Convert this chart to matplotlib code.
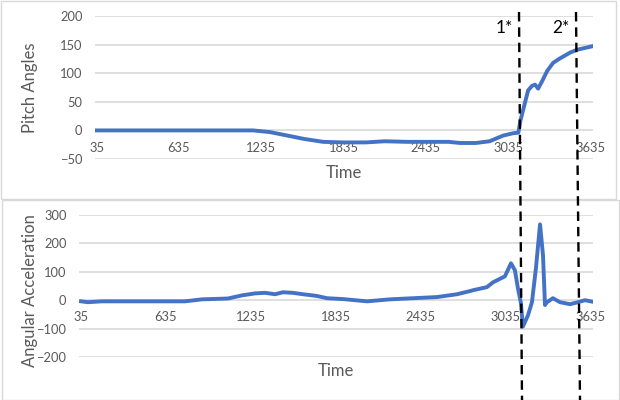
import matplotlib
matplotlib.use("Agg")
import matplotlib.pyplot as plt
from matplotlib.lines import Line2D
from matplotlib.patches import Rectangle

plt.rcParams['font.family'] = ['Lato', 'DejaVu Sans']

# ---- data ----
time_top = [35, 300, 600, 900, 1176, 1300, 1446, 1550, 1686, 1835, 2000, 2135, 2300, 2435,
            2600, 2685, 2800, 2900, 3000, 3071, 3110, 3125, 3144, 3181, 3210, 3232, 3254,
            3283, 3320, 3363, 3414, 3487, 3538, 3611, 3647]
pitch = [0, 0, 0, 0, 0, -3, -10, -15, -20, -21, -21, -19, -20, -20,
         -20, -22, -22, -19, -9, -5, -4, 17, 35, 70, 78, 80, 73,
         86, 104, 118, 126, 136, 141, 145, 147]

time_bot = [35, 84, 183, 500, 769, 889, 1073, 1172, 1264, 1334, 1405, 1461, 1530, 1602,
            1700, 1772, 1885, 2054, 2216, 2379, 2548, 2690, 2781, 2802, 2901, 2944, 3028,
            3071, 3099, 3120, 3141, 3155, 3191, 3219, 3247, 3276, 3297, 3311, 3325, 3367,
            3417, 3487, 3544, 3593, 3643]
accel = [-4, -7, -4, -4, -4, 3, 6, 17, 24, 26, 21, 28, 26, 21,
         15, 7, 4, -4, 3, 7, 11, 21, 32, 35, 46, 63, 84,
         130, 105, 42, -10, -93, -53, -7, 112, 267, 158, -17, -7, 7,
         -7, -14, -7, 0, -5]

x_ticks = [35, 635, 1235, 1835, 2435, 3035, 3635]
top_yticks = [-50, 0, 50, 100, 150, 200]
bot_yticks = [-200, -100, 0, 100, 200, 300]
marker_labels = ["1*", "2*"]

W, H = 620, 400
fig = plt.figure(figsize=(6.2, 4.0), dpi=100)

def frac(x0, y0, x1, y1):
    # pixel box (top-left origin) -> figure fraction
    return [x0 / W, 1 - y1 / H, (x1 - x0) / W, (y1 - y0) / H]

grey_txt = '#595959'
grid_c = '#D9D9D9'
blue = '#4472C4'

# chart borders
fig.add_artist(Rectangle((0.5 / W, 1 - 199 / H), 615.5 / W, 198.5 / H, transform=fig.transFigure,
                         fill=False, edgecolor=grid_c, lw=1))
fig.add_artist(Rectangle((2 / W, 0.5 / H), 617 / W, 199.5 / H, transform=fig.transFigure,
                         fill=False, edgecolor=grid_c, lw=1))

def style(ax, yticks, ylim, xlim):
    ax.set_xlim(*xlim)
    ax.set_ylim(*ylim)
    ax.set_yticks(yticks)
    ax.set_xticks(x_ticks)
    ax.set_xticklabels([str(t) for t in x_ticks])
    for s in ['top', 'right', 'left']:
        ax.spines[s].set_visible(False)
    ax.spines['bottom'].set_position(('data', 0))
    ax.spines['bottom'].set_color('none')
    ax.grid(axis='y', color=grid_c, lw=1.2)
    ax.set_axisbelow(True)
    ax.tick_params(axis='both', length=0, labelsize=9.3, labelcolor=grey_txt)
    ax.tick_params(axis='x', pad=8)
    ax.tick_params(axis='y', pad=9)
    ax.patch.set_alpha(0)

ax1 = fig.add_axes(frac(95, 16, 593, 159))
style(ax1, top_yticks, (-50, 200), (24, 3654))
ax1.plot(time_top, pitch, color=blue, lw=2.8, solid_joinstyle='round')

ax2 = fig.add_axes(frac(79, 215, 593, 357))
style(ax2, bot_yticks, (-200, 300), (21, 3650))
ax2.plot(time_bot, accel, color=blue, lw=2.8, solid_joinstyle='round')

fig.text(30 / W, 1 - 88 / H, 'Pitch Angles', rotation=90, ha='center', va='center',
         fontsize=12, color=grey_txt)
fig.text(30 / W, 1 - 291 / H, 'Angular Acceleration', rotation=90, ha='center', va='center',
         fontsize=12, color=grey_txt)
fig.text(344 / W, 1 - 173 / H, 'Time', ha='center', va='center', fontsize=12, color=grey_txt)
fig.text(336 / W, 1 - 371 / H, 'Time', ha='center', va='center', fontsize=12, color=grey_txt)

# dashed marker lines spanning both charts
for (xa, xb) in [(519, 522), (576, 580)]:
    fig.add_artist(Line2D([xa / W, xb / W], [1 - 12 / H, 0], transform=fig.transFigure,
                          color='black', lw=1.7, linestyle=(0, (4, 2.5))))
for lbl, xc in zip(marker_labels, [504, 561]):
    fig.text(xc / W, 1 - 28 / H, lbl, ha='center', va='center', fontsize=12.5, color='black')

fig.savefig('out.png', dpi=100)
